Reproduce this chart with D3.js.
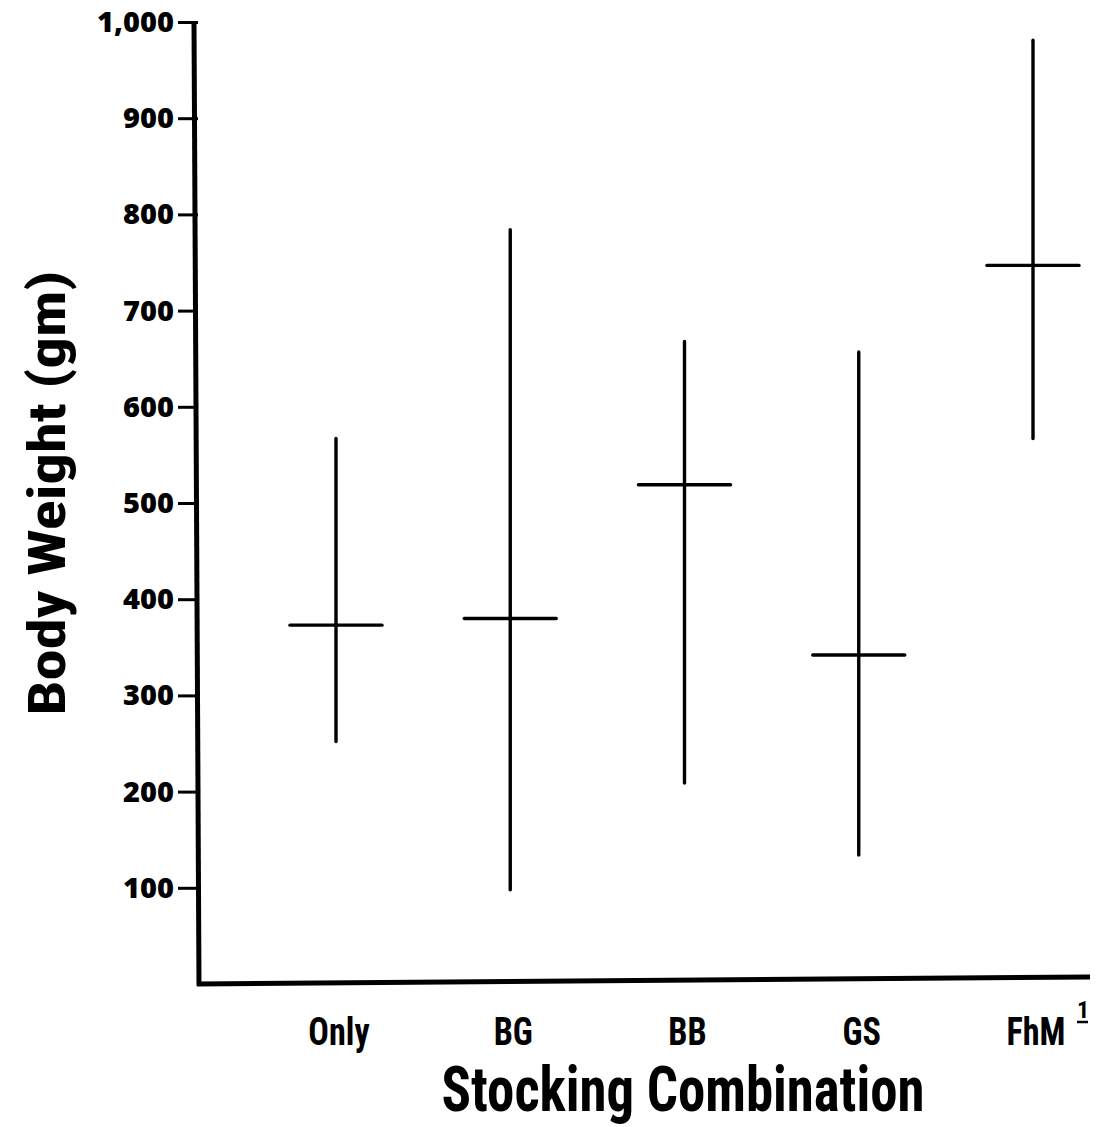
<!DOCTYPE html>
<html>
<head>
<meta charset="utf-8">
<script src="https://cdn.jsdelivr.net/npm/d3@7"></script>
<style>
  html, body { margin: 0; padding: 0; background: #fff; }
  svg { display: block; }
  .tick text { font-family: "Open Sans", "DejaVu Sans", sans-serif; font-weight: 800; }
  .narrow { font-family: "Liberation Sans Narrow", "Roboto Condensed", "Liberation Sans", sans-serif; font-weight: 700; }
</style>
</head>
<body>
<script>
// Body weight by stocking combination: range (min–max) and mean per group
const categories = ["Only", "BG", "BB", "GS", "FhM"];
const minWeight  = [252, 98, 209, 134, 567];
const maxWeight  = [567, 784, 668, 657, 981];
const meanWeight = [373, 380, 519, 342, 747];
const yTicks = [100, 200, 300, 400, 500, 600, 700, 800, 900, 1000];

const W = 1105, H = 1127;
const svg = d3.select("body").append("svg").attr("width", W).attr("height", H);

const y = d3.scaleLinear().domain([0, 1000]).range([984, 22]);
const x = d3.scalePoint().domain(categories).range([336, 1033]);
const axisX0 = 198, axisX1 = 1090;
const halfBar = 46;

// Y axis with ticks on the left
const yAxis = d3.axisLeft(y)
  .tickValues(yTicks)
  .tickSize(20)
  .tickPadding(4)
  .tickFormat(d3.format(","));
const gy = svg.append("g").attr("transform", `translate(${axisX0},0)`).call(yAxis);
gy.select(".domain").remove();
gy.selectAll(".tick line").attr("stroke", "#000").attr("stroke-width", 3);
gy.selectAll(".tick text").attr("font-size", 29).attr("fill", "#000").attr("dy", "0.33em");

// Axis lines
svg.append("line")
  .attr("x1", axisX0 - 4).attr("x2", axisX0 + 1)
  .attr("y1", y(1000)).attr("y2", y(0) + 2)
  .attr("stroke", "#000").attr("stroke-width", 5);
svg.append("line")
  .attr("x1", axisX0 - 1).attr("x2", axisX1)
  .attr("y1", y(0)).attr("y2", y(0) - 7)
  .attr("stroke", "#000").attr("stroke-width", 5);

const rows = categories.map((c, i) => ({ c, lo: minWeight[i], hi: maxWeight[i], mean: meanWeight[i] }));

// Range lines
svg.selectAll("line.range").data(rows).join("line")
  .attr("class", "range")
  .attr("x1", d => x(d.c)).attr("x2", d => x(d.c))
  .attr("y1", d => y(d.hi)).attr("y2", d => y(d.lo))
  .attr("stroke", "#000").attr("stroke-width", 3.4).attr("stroke-linecap", "round");

// Mean bars
svg.selectAll("line.mean").data(rows).join("line")
  .attr("class", "mean")
  .attr("x1", d => x(d.c) - halfBar).attr("x2", d => x(d.c) + halfBar)
  .attr("y1", d => y(d.mean)).attr("y2", d => y(d.mean))
  .attr("stroke", "#000").attr("stroke-width", 3.4).attr("stroke-linecap", "round");

// Category labels (condensed)
svg.selectAll("text.cat").data(rows).join("text")
  .attr("class", "cat narrow")
  .attr("transform", d => `translate(${x(d.c) + 3},1045) scale(0.9,1)`)
  .attr("text-anchor", "middle")
  .attr("font-size", 38)
  .attr("fill", "#000")
  .text(d => d.c);
// Footnote marker on FhM
svg.append("text").attr("class", "narrow")
  .attr("x", x("FhM") + 44).attr("y", 1018)
  .attr("font-size", 24).attr("fill", "#000")
  .text("1");
svg.append("line")
  .attr("x1", x("FhM") + 44).attr("x2", x("FhM") + 55)
  .attr("y1", 1022).attr("y2", 1022)
  .attr("stroke", "#000").attr("stroke-width", 2.5);

// Axis titles
svg.append("text").attr("class", "narrow")
  .attr("transform", "translate(683,1111) scale(0.87,1)")
  .attr("text-anchor", "middle")
  .attr("font-size", 63).attr("fill", "#000")
  .text("Stocking  Combination");

svg.append("text").attr("class", "narrow")
  .attr("transform", "translate(65,493) rotate(-90)")
  .attr("text-anchor", "middle")
  .attr("font-size", 52).attr("fill", "#000")
  .attr("textLength", 445).attr("lengthAdjust", "spacingAndGlyphs")
  .text("Body Weight (gm)");
</script>
</body>
</html>
